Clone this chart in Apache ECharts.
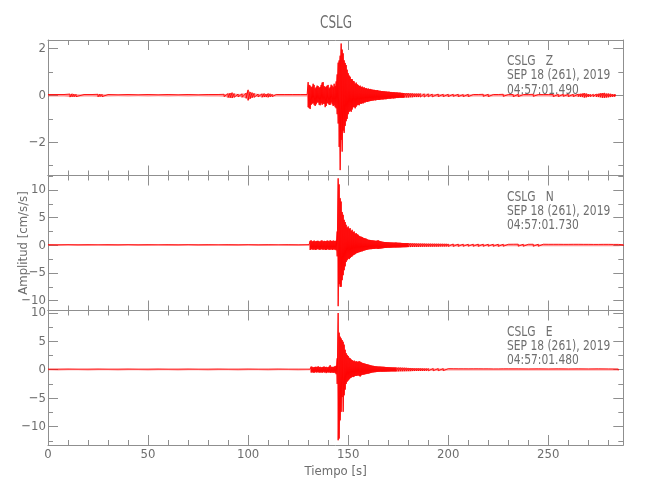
<!DOCTYPE html>
<html>
<head>
<meta charset="utf-8">
<script src="https://cdn.jsdelivr.net/npm/echarts@6/dist/echarts.min.js"></script>
<style>html,body{margin:0;padding:0;background:#fff}#c{width:650px;height:500px}</style>
</head>
<body>
<div id="c"></div>
<script>
// ---------------- data ----------------
const stationName = 'CSLG';
const components = ['Z', 'N', 'E'];
const dateLabel = 'SEP 18 (261), 2019';
const startTimes = ['04:57:01.490', '04:57:01.730', '04:57:01.480'];
const xAxisTitle = 'Tiempo [s]';
const yAxisTitle = 'Amplitud [cm/s/s]';
const xRange = [0, 287.5];
const xMajorTicks = [0, 50, 100, 150, 200, 250];
const xMinorTicks = [10, 20, 30, 40, 60, 70, 80, 90, 110, 120, 130, 140, 160, 170, 180, 190, 210, 220, 230, 240, 260, 270, 280];
const zRange = [-3.42, 2.37];
const nRange = [-11.78, 12.61];
const eRange = [-13.23, 10.4];
const zMajorTicks = [-2, 0, 2];
const zMinorTicks = [-3, -1, 1];
const nMajorTicks = [-10, -5, 0, 5, 10];
const nMinorTicks = [-7.5, -2.5, 2.5, 7.5, 12.5];
const eMajorTicks = [-10, -5, 0, 5, 10];
const eMinorTicks = [-12.5, -7.5, -2.5, 2.5, 7.5];

// [time s, upper peak, lower peak] of each stretch of trace
const zTrace = [
 [0,.04,-.04],[4,.04,-.04],[8,.04,-.04],[11,.06,-.07],[12,.07,-.06],[13,.06,-.06],[14,.05,-.05],[18,.04,-.04],[22,.04,-.04],[25,.05,-.06],
 [26,.06,-.05],[27,.05,-.05],[30,.04,-.04],[35,.03,-.03],[40,.04,-.04],[45,.03,-.03],[50,.04,-.04],[55,.03,-.03],[60,.04,-.04],[65,.03,-.03],
 [70,.04,-.04],[75,.03,-.03],[80,.04,-.04],[85,.04,-.04],[88,.05,-.05],[90,.08,-.09],[91,.1,-.1],[92,.12,-.11],[93,.08,-.08],[95,.06,-.06],
 [97,.07,-.08],[99,.1,-.12],[100,.24,-.21],[101,.15,-.14],[102,.12,-.1],[103,.09,-.08],[105,.06,-.06],[107,.07,-.08],[108,.08,-.07],[109,.06,-.07],
 [110,.08,-.08],[111,.07,-.06],[112,.05,-.05],[114,.04,-.04],[118,.04,-.04],[122,.04,-.04],[126,.04,-.04],[129.5,.04,-.04],
 [130,.57,-.5],[130.5,.45,-.54],[131,.42,-.58],[131.5,.35,-.4],[132,.38,-.35],[132.5,.5,-.33],[133,.45,-.4],[133.5,.3,-.45],[134,.35,-.38],[134.5,.42,-.3],
 [135,.4,-.3],[135.5,.33,-.4],[136,.36,-.42],[136.5,.45,-.33],[137,.55,-.4],[137.5,.57,-.35],[138,.4,-.36],[138.5,.35,-.5],[139,.38,-.45],[139.5,.42,-.32],
 [140,.45,-.35],[140.5,.3,-.4],[141,.35,-.4],[141.5,.46,-.3],[142,.42,-.38],[142.5,.35,-.45],[143,.5,-.42],[143.5,.4,-.5],[144,.6,-.55],[144.5,.9,-.8],
 [145,1.4,-1.2],[145.5,1.5,-2.2],[146,1.7,-3.19],[146.5,2.22,-1.9],[147,1.96,-2.4],[147.5,1.8,-1.5],[148,1.5,-1.6],[148.5,1.39,-1.3],[149,1.3,-1.1],[149.5,1.1,-1.0],
 [150,.95,-.8],[150.5,.85,-.7],[151,.8,-.65],[151.5,.7,-.7],[152,.7,-.6],[152.5,.62,-.5],[153,.6,-.5],[153.5,.5,-.55],[154,.55,-.48],[154.5,.48,-.42],
 [155,.45,-.4],[155.5,.4,-.42],[156,.42,-.35],[156.5,.36,-.36],[157,.38,-.33],[157.5,.33,-.34],[158,.35,-.3],[158.5,.3,-.3],[159,.32,-.27],[159.5,.28,-.28],
 [160,.3,-.26],[160.5,.27,-.25],[161,.28,-.24],[161.5,.26,-.23],[162,.25,-.22],[162.5,.24,-.22],[163,.24,-.2],[163.5,.23,-.21],[164,.22,-.2],[164.5,.23,-.19],
 [165,.21,-.19],[165.5,.2,-.19],[166,.2,-.18],[166.5,.19,-.17],[167,.19,-.17],[167.5,.18,-.17],[168,.18,-.16],[168.5,.17,-.16],[169,.17,-.16],[169.5,.16,-.15],
 [170,.16,-.14],[170.5,.16,-.14],[171,.15,-.14],[171.5,.15,-.13],[172,.14,-.12],[172.5,.14,-.13],[173,.14,-.12],[173.5,.13,-.12],[174,.13,-.11],[174.5,.13,-.11],
 [175,.12,-.11],[175.5,.12,-.1],[176,.12,-.1],[176.5,.11,-.1],[177,.11,-.1],[177.5,.1,-.1],[178,.1,-.09],[179,.1,-.09],[180,.1,-.09],[181,.09,-.08],
 [182,.09,-.08],[183,.08,-.07],[184,.08,-.07],[185,.08,-.07],[186,.08,-.07],[188,.07,-.07],[190,.07,-.06],[192,.06,-.06],[195,.06,-.05],[197.5,.05,-.05],
 [200,.05,-.05],[202.5,.05,-.04],[205,.05,-.05],[207.5,.04,-.05],[210,.05,-.05],[212.5,.04,-.04],[215,.04,-.04],[217.5,.05,-.04],[220,.05,-.05],[222.5,.04,-.04],
 [225,.04,-.04],[227.5,.05,-.04],[230,.04,-.04],[232.5,.04,-.05],[235,.05,-.05],[237.5,.04,-.04],[240,.04,-.04],[242.5,.05,-.04],[245,.04,-.04],[247.5,.04,-.04],
 [250,.04,-.04],[252.5,.04,-.05],[255,.05,-.05],[257.5,.05,-.04],[260,.05,-.05],[262.5,.05,-.05],[265,.06,-.05],[266,.07,-.06],[267,.08,-.07],[268,.1,-.09],
 [269,.08,-.08],[270,.06,-.06],[271,.05,-.05],[272.5,.05,-.05],[274,.06,-.06],[275,.07,-.07],[276,.09,-.08],[277,.1,-.1],[278,.11,-.1],[279,.08,-.09],
 [280,.08,-.08],[281,.07,-.07],[282,.06,-.06],[283,.05,-.05],[283.5,.04,-.04]
];

const nTrace = [
 [0,.12,-.12],[5,.1,-.12],[10,.12,-.1],[15,.1,-.12],[20,.12,-.12],[25,.1,-.1],[30,.12,-.12],[35,.1,-.12],[40,.12,-.1],[45,.1,-.12],
 [50,.12,-.12],[55,.1,-.1],[60,.12,-.12],[65,.1,-.12],[70,.12,-.1],[75,.1,-.12],[80,.12,-.12],[85,.1,-.1],[90,.12,-.12],[95,.1,-.12],
 [100,.12,-.1],[105,.1,-.12],[110,.12,-.12],[115,.1,-.1],[120,.12,-.12],[125,.1,-.12],[130.5,.12,-.1],
 [131,.8,-.85],[131.5,.9,-.7],[132,.7,-.75],[132.5,.75,-.8],[133,.85,-.7],[133.5,.7,-.85],[134,.75,-.8],[134.5,.8,-.7],[135,.8,-.7],[135.5,.7,-.8],
 [136,.7,-.8],[136.5,.85,-.7],[137,.85,-.75],[137.5,.7,-.8],[138,.8,-.7],[138.5,.75,-.85],[139,.75,-.85],[139.5,.85,-.7],[140,.8,-.75],[140.5,.7,-.8],
 [141,.9,-.8],[141.5,.8,-.7],[142,.75,-.85],[142.5,.85,-.75],[143,.8,-.75],[143.5,.75,-.8],[144,.85,-.9],[144.5,2.5,-2.0],[145,12.1,-11.0],[145.5,11.0,-7.0],
 [146,8.5,-7.5],[146.5,7.9,-7.5],[147,6.0,-6.3],[147.5,5.5,-5.4],[148,4.6,-4.5],[148.5,4.2,-3.8],[149,3.7,-3.0],[149.5,3.2,-2.7],[150,3.4,-2.4],[150.5,3.0,-2.5],
 [151,3.1,-2.3],[151.5,2.6,-2.1],[152,2.8,-2.0],[152.5,2.4,-1.8],[153,2.5,-1.7],[153.5,2.1,-1.6],[154,2.2,-1.45],[154.5,2.0,-1.4],[155,1.9,-1.3],[155.5,1.7,-1.25],
 [156,1.6,-1.2],[156.5,1.55,-1.1],[157,1.5,-1.1],[157.5,1.35,-1.0],[158,1.3,-.95],[158.5,1.25,-.9],[159,1.2,-.85],[159.5,1.1,-.8],
 [160,1.0,-.75],[160.5,.98,-.72],[161,.96,-.7],[161.5,.92,-.7],[162,.9,-.68],[162.5,.88,-.66],[163,.85,-.65],[163.5,.82,-.62],[164,.8,-.6],[164.5,.85,-.64],
 [165,.9,-.66],[165.5,.8,-.62],[166,.75,-.6],[166.5,.7,-.57],[167,.65,-.55],[167.5,.62,-.52],[168,.6,-.5],[168.5,.59,-.49],[169,.58,-.48],[169.5,.56,-.46],
 [170,.55,-.45],[170.5,.53,-.45],[171,.52,-.44],[171.5,.51,-.43],[172,.5,-.42],[172.5,.49,-.41],[173,.48,-.4],[173.5,.5,-.41],[174,.5,-.4],[174.5,.47,-.39],
 [175,.46,-.39],[175.5,.45,-.38],[176,.45,-.38],[176.5,.43,-.37],[177,.42,-.36],[177.5,.41,-.35],[178,.4,-.35],[178.5,.4,-.34],[179,.4,-.34],[179.5,.4,-.33],
 [180,.4,-.33],[181,.38,-.32],[182,.36,-.31],[183,.35,-.3],[184,.34,-.29],[185,.33,-.29],[186,.32,-.28],[187,.31,-.27],[188,.31,-.26],[189,.3,-.26],
 [190,.3,-.25],[191,.3,-.25],[192,.29,-.25],[193,.29,-.24],[194,.28,-.24],[195,.28,-.24],[196,.27,-.23],[197,.27,-.23],[198,.26,-.23],[199,.26,-.22],
 [200,.25,-.22],[202.5,.24,-.21],[205,.22,-.2],[207.5,.21,-.19],[210,.2,-.18],[212.5,.21,-.19],[215,.22,-.2],[217.5,.21,-.19],[220,.2,-.18],[222.5,.2,-.19],
 [225,.2,-.2],[227.5,.19,-.18],[230,.18,-.18],[232.5,.19,-.17],[235,.2,-.17],[237.5,.19,-.18],[240,.18,-.18],[242.5,.19,-.18],[245,.2,-.18],[247.5,.19,-.17],
 [250,.18,-.17],[252.5,.18,-.17],[255,.18,-.18],[257.5,.17,-.17],[260,.17,-.16],[262.5,.18,-.16],[265,.18,-.17],[267.5,.17,-.16],[270,.17,-.16],[272.5,.16,-.16],
 [275,.16,-.16],[277.5,.17,-.15],[280,.17,-.15],[282.5,.16,-.16],[285,.16,-.16],[287.5,.1,-.1]
];

const eTrace = [
 [0,.1,-.1],[5,.1,-.12],[10,.12,-.1],[15,.1,-.1],[20,.1,-.12],[25,.12,-.1],[30,.1,-.1],[35,.1,-.12],[40,.12,-.1],[45,.1,-.1],
 [50,.1,-.12],[55,.12,-.1],[60,.1,-.1],[65,.1,-.12],[70,.12,-.1],[75,.1,-.1],[80,.1,-.12],[85,.12,-.1],[90,.1,-.1],[95,.1,-.12],
 [100,.12,-.1],[105,.1,-.1],[110,.1,-.12],[115,.12,-.1],[120,.1,-.1],[125,.1,-.12],[131,.1,-.1],
 [131.5,.55,-.5],[132,.5,-.45],[132.5,.4,-.5],[133,.45,-.55],[133.5,.5,-.4],[134,.5,-.5],[134.5,.45,-.45],[135,.6,-.45],[135.5,.45,-.5],[136,.5,-.5],
 [136.5,.4,-.45],[137,.45,-.55],[137.5,.5,-.4],[138,.55,-.5],[138.5,.45,-.45],[139,.5,-.6],[139.5,.4,-.45],[140,.45,-.5],[140.5,.55,-.45],[141,.8,-.55],
 [141.5,.5,-.5],[142,.5,-.5],[142.5,.45,-.55],[143,.55,-.5],[143.5,.6,-.6],[144,.7,-.8],[144.5,2.0,-2.5],[145,9.96,-12.4],[145.5,6.5,-12.1],[146,5.8,-8.9],
 [146.5,5.5,-7.4],[147,5.2,-4.8],[147.5,4.9,-7.4],[148,4.4,-4.5],[148.5,3.5,-3.5],[149,2.9,-2.5],[149.5,2.6,-2.1],[150,2.4,-1.9],[150.5,2.1,-1.7],[151,2.0,-1.5],
 [151.5,1.8,-1.4],[152,1.7,-1.25],[152.5,1.5,-1.3],[153,1.6,-1.2],[153.5,1.4,-1.1],[154,1.5,-1.1],[154.5,1.4,-1.05],[155,1.4,-1.0],[155.5,1.5,-1.1],[156,1.4,-1.2],
 [156.5,1.3,-1.0],[157,1.2,-.9],[157.5,1.15,-.88],[158,1.1,-.85],[158.5,1.05,-.8],[159,1.0,-.77],[159.5,.95,-.72],
 [160,.9,-.7],[160.5,.85,-.65],[161,.8,-.6],[161.5,.75,-.55],[162,.7,-.5],[162.5,.68,-.48],[163,.65,-.45],[163.5,.62,-.44],[164,.6,-.42],[164.5,.58,-.4],
 [165,.55,-.38],[165.5,.55,-.37],[166,.54,-.35],[166.5,.53,-.36],[167,.52,-.36],[167.5,.51,-.35],[168,.5,-.35],[168.5,.48,-.34],[169,.47,-.34],[169.5,.46,-.33],
 [170,.45,-.33],[170.5,.43,-.32],[171,.42,-.31],[171.5,.41,-.3],[172,.4,-.3],[172.5,.4,-.3],[173,.39,-.3],[173.5,.39,-.3],[174,.38,-.3],[175,.38,-.3],
 [176,.37,-.29],[177,.36,-.29],[178,.35,-.28],[179,.33,-.27],[180,.31,-.26],[181,.3,-.26],[182,.28,-.25],[183,.27,-.24],[184,.26,-.23],[185,.26,-.23],
 [186,.25,-.22],[187,.24,-.21],[188,.23,-.21],[189,.23,-.2],[190,.22,-.2],[192.5,.21,-.19],[195,.2,-.18],[197.5,.19,-.17],[200,.18,-.16],[202.5,.17,-.16],
 [205,.16,-.15],[207.5,.16,-.15],[210,.15,-.15],[212.5,.16,-.14],[215,.16,-.14],[217.5,.15,-.15],[220,.15,-.15],[222.5,.14,-.15],[225,.14,-.15],[227.5,.15,-.14],
 [230,.15,-.14],[235,.15,-.15],[240,.14,-.14],[245,.15,-.15],[250,.14,-.14],[255,.15,-.14],[260,.14,-.15],
 [265,.15,-.14],[270,.14,-.14],[275,.15,-.15],[280,.14,-.14],[285,.12,-.12]
];

// ---------------- chart construction ----------------
const traces = [zTrace, nTrace, eTrace];
const yRanges = [zRange, nRange, eRange];
const yMajor = [zMajorTicks, nMajorTicks, eMajorTicks];
const yMinor = [zMinorTicks, nMinorTicks, eMinorTicks];

const FONT = "'Liberation Sans Narrow','DejaVu Sans Condensed','Arial Narrow','Liberation Sans',sans-serif";
const AXIS_COLOR = '#8f8f8f';
const TEXT_COLOR = '#6e6e6e';
const panelTop = [40, 175.5, 310.5];
const panelH = [135.5, 135, 134.5];
const LEFT = 48, WIDTH = 575.3;

function toPolyline(tr) {
  const out = [];
  for (const r of tr) { out.push([r[0], r[1]]); out.push([r[0], r[2]]); }
  return out;
}
const fmtY = v => (v < 0 ? '\u2212' + Math.abs(v) : String(v));

const grid = [], xAxis = [], yAxis = [], series = [];
const tickStyle = {color: AXIS_COLOR, width: 1};
for (let p = 0; p < 3; p++) {
  for (let k = 0; k < 2; k++) {
    grid.push({left: LEFT, width: WIDTH, top: panelTop[p], height: panelH[p], outerBoundsMode: 'none'});
  }
  const gA = 2 * p, gB = 2 * p + 1;
  const xCommon = {type: 'value', min: xRange[0], max: xRange[1], splitLine: {show: false}, silent: true};
  const yCommon = {type: 'value', min: yRanges[p][0], max: yRanges[p][1], splitLine: {show: false}, silent: true};
  ['bottom', 'top'].forEach(pos => {
    const showLab = (pos === 'bottom' && p === 2);
    xAxis.push(Object.assign({}, xCommon, {
      gridIndex: gA, position: pos,
      axisLine: {show: true, onZero: false, lineStyle: tickStyle},
      axisTick: {show: true, inside: true, length: 10, lineStyle: tickStyle, customValues: xMajorTicks},
      axisLabel: {show: showLab, customValues: xMajorTicks, color: TEXT_COLOR, fontFamily: FONT, fontSize: 13, margin: 3},
      name: showLab ? xAxisTitle : '', nameLocation: 'middle', nameGap: 20, nameMoveOverlap: false,
      nameTextStyle: {color: TEXT_COLOR, fontFamily: FONT, fontSize: 13}
    }));
    xAxis.push(Object.assign({}, xCommon, {
      gridIndex: gB, position: pos,
      axisLine: {show: false, onZero: false},
      axisTick: {show: true, inside: true, length: 5, lineStyle: tickStyle, customValues: xMinorTicks},
      axisLabel: {show: false}
    }));
  });
  ['left', 'right'].forEach(pos => {
    const showLab = pos === 'left';
    yAxis.push(Object.assign({}, yCommon, {
      gridIndex: gA, position: pos,
      axisLine: {show: true, onZero: false, lineStyle: tickStyle},
      axisTick: {show: true, inside: true, length: 10, lineStyle: tickStyle, customValues: yMajor[p]},
      axisLabel: {show: showLab, customValues: yMajor[p], formatter: fmtY, color: TEXT_COLOR, fontFamily: FONT, fontSize: 13, margin: 2},
      name: (showLab && p === 1) ? yAxisTitle : '', nameLocation: 'middle', nameGap: 18, nameMoveOverlap: false,
      nameTextStyle: {color: TEXT_COLOR, fontFamily: FONT, fontSize: 13}
    }));
    yAxis.push(Object.assign({}, yCommon, {
      gridIndex: gB, position: pos,
      axisLine: {show: false, onZero: false},
      axisTick: {show: true, inside: true, length: 5, lineStyle: tickStyle, customValues: yMinor[p]},
      axisLabel: {show: false}
    }));
  });
  // translucent envelope between the upper and lower peaks
  const tr = traces[p];
  series.push({
    type: 'custom', name: components[p] + ' envelope', xAxisIndex: 4 * p, yAxisIndex: 4 * p,
    silent: true, clip: true, data: tr,
    renderItem: (params, api) => {
      if (params.dataIndex !== 0) return null;
      const pts = [];
      for (let i = 0; i < tr.length; i++) pts.push(api.coord([tr[i][0], tr[i][1]]));
      for (let i = tr.length - 1; i >= 0; i--) pts.push(api.coord([tr[i][0], tr[i][2]]));
      return {type: 'polygon', shape: {points: pts}, style: {fill: 'rgba(255,40,40,0.5)', stroke: null}};
    }
  });
  // the trace itself
  series.push({
    type: 'line', name: components[p], xAxisIndex: 4 * p, yAxisIndex: 4 * p,
    data: toPolyline(tr), showSymbol: false, symbol: 'none', silent: true, clip: true,
    lineStyle: {color: '#ff0000', width: 1, opacity: 0.9}
  });
}

const graphic = [];
graphic.push({type: 'text', x: 336, y: 23.5, scaleX: 0.74, silent: true,
  style: {text: stationName, fill: TEXT_COLOR, font: '18px ' + FONT, align: 'center', verticalAlign: 'middle'}});
for (let p = 0; p < 3; p++) {
  const lines = [stationName + '   ' + components[p], dateLabel, startTimes[p]];
  lines.forEach((t, k) => {
    graphic.push({type: 'text', x: 507, y: panelTop[p] + 21.5 + k * 14.3, scaleX: 0.85, silent: true,
      style: {text: t, fill: TEXT_COLOR, font: '14px ' + FONT, align: 'left', verticalAlign: 'middle'}});
  });
}

const chart = echarts.init(document.getElementById('c'), null, {renderer: 'canvas'});
chart.setOption({
  animation: false,
  backgroundColor: '#fff',
  grid, xAxis, yAxis, series, graphic
});
</script>
</body>
</html>
